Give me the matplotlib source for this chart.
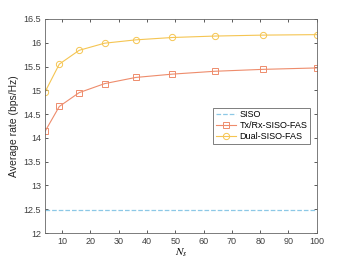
import matplotlib
matplotlib.use("Agg")
import matplotlib.pyplot as plt

# Number of ports N_s
ns = [4, 9, 16, 25, 36, 49, 64, 81, 100]

# Average rates (bps/Hz)
siso_rate = 12.48
txrx_fas = [14.14, 14.66, 14.95, 15.14, 15.27, 15.34, 15.40, 15.44, 15.47]
dual_fas = [14.97, 15.55, 15.84, 15.99, 16.06, 16.11, 16.14, 16.16, 16.17]

x_ticks = [10, 20, 30, 40, 50, 60, 70, 80, 90, 100]
y_ticks = [12, 12.5, 13, 13.5, 14, 14.5, 15, 15.5, 16, 16.5]

plt.rcParams["font.family"] = ["Liberation Sans", "DejaVu Sans"]
plt.rcParams["mathtext.fontset"] = "stix"

fig = plt.figure(figsize=(3.5, 2.63), dpi=100)
ax = fig.add_axes([0.129, 0.114, 0.776, 0.814])

ax.plot([ns[0], ns[-1]], [siso_rate, siso_rate], linestyle="--", color="#8cc8e6",
        linewidth=0.9, label="SISO")
ax.plot(ns, txrx_fas, marker="s", markersize=4, markerfacecolor="none",
        color="#ee8c6c", linewidth=0.8, markeredgewidth=0.7, label="Tx/Rx-SISO-FAS")
ax.plot(ns, dual_fas, marker="o", markersize=4.5, markerfacecolor="none",
        color="#f5c552", linewidth=0.8, markeredgewidth=0.7, label="Dual-SISO-FAS")

ax.set_xlim(4, 100)
ax.set_ylim(12, 16.5)
ax.set_xticks(x_ticks)
ax.set_yticks(y_ticks)
ax.set_yticklabels([f"{v:g}" for v in y_ticks])

ax.tick_params(direction="in", top=True, right=True, labelsize=6.5,
               length=2.5, width=0.6, colors="#404040", pad=3)
for s in ax.spines.values():
    s.set_color("#666666")
    s.set_linewidth(0.6)

ax.set_xlabel("$N_s$", fontsize=8, labelpad=0)
ax.set_ylabel("Average rate (bps/Hz)", fontsize=7.5, color="#262626", labelpad=3)

leg = ax.legend(loc="lower right", bbox_to_anchor=(0.985, 0.405), fontsize=6.5,
                frameon=True, fancybox=False, edgecolor="#444444",
                handlelength=2.2, borderpad=0.3, labelspacing=0.2,
                handletextpad=0.4, borderaxespad=0.3)
leg.get_frame().set_linewidth(0.6)

fig.savefig("out.png", dpi=100, facecolor="white")
